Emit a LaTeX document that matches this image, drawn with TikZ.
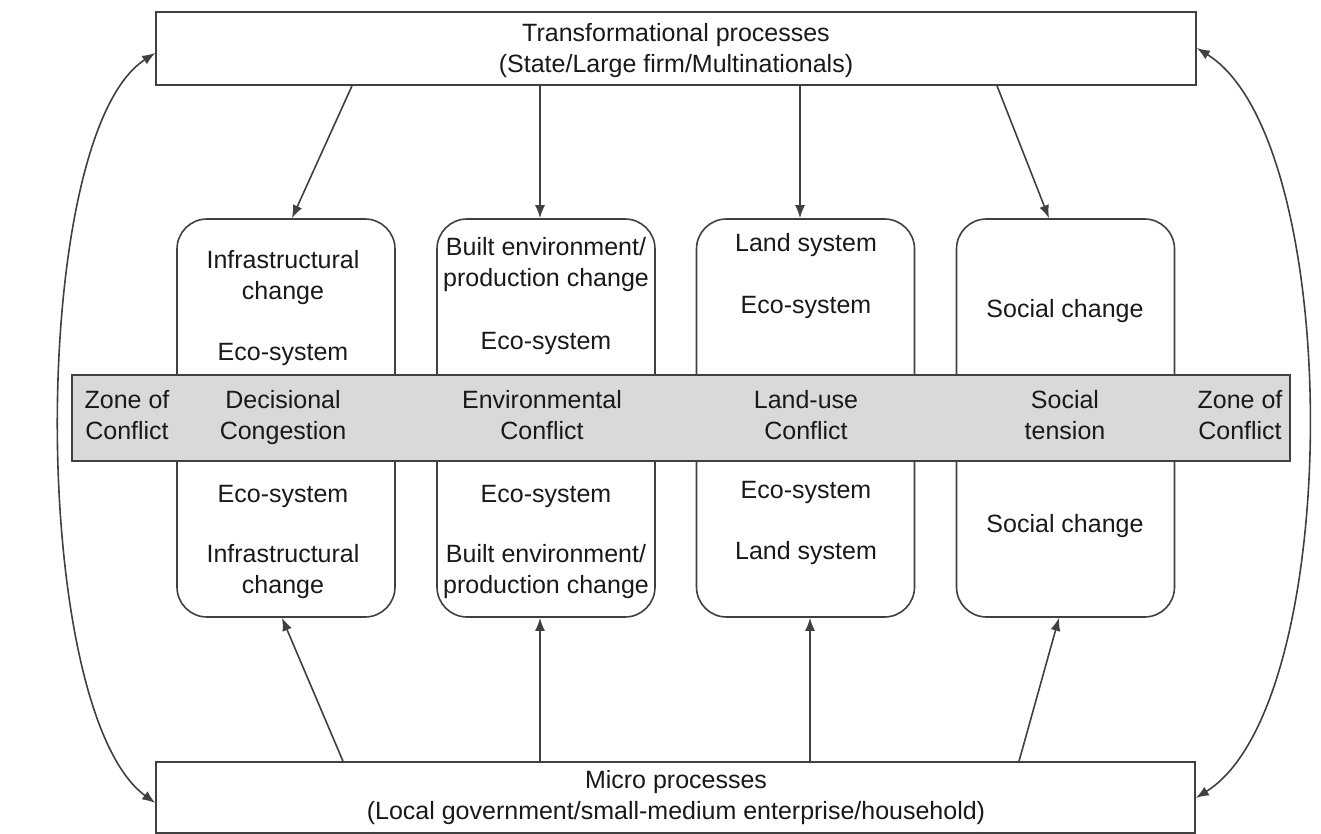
\documentclass[tikz,border=0pt]{standalone}
\usepackage{fontspec}
\setmainfont{Liberation Sans}
\usetikzlibrary{arrows.meta}
\begin{document}
\begin{tikzpicture}[x=1pt,y=-1pt,
  ink/.style={draw=black!75,line width=1.6pt},
  procbox/.style={ink,fill=white,rectangle,inner sep=0pt},
  changebox/.style={ink,rectangle,rounded corners=30pt,minimum width=218pt,minimum height=398pt,inner sep=0pt},
  label/.style={font=\fontsize{25}{31}\selectfont,align=center,text=black!90,inner sep=0pt},
  arr/.style={ink,-{Latex[length=13pt,width=10pt]}},
  dblarr/.style={ink,{Latex[length=13pt,width=10pt]}-{Latex[length=13pt,width=10pt]}}]
\useasboundingbox (0,0) rectangle (1321,834);

% process boxes
\node[procbox,minimum width=1040pt,minimum height=73pt] (tp) at (676,48.5) {};
\node[procbox,minimum width=1039pt,minimum height=71pt] (mp) at (675.5,797.5) {};
\node[label] (tpt) at (676,51) {Transformational processes\\(State/Large firm/Multinationals)};
\node[label] (mpt) at (676,798) {Micro processes\\(Local government/small-medium enterprise/household)};

% change boxes
\node[changebox] (b1) at (286,418) {};
\node[changebox] (b2) at (546,418) {};
\node[changebox] (b3) at (805.5,418) {};
\node[changebox] (b4) at (1065.5,418) {};

% conflict band across the boxes
\node[draw=black!75,line width=1.6pt,fill=black!15,rectangle,minimum width=1218pt,minimum height=86pt,inner sep=0pt] (band) at (681,418) {};

% texts inside the change boxes
\node[label] (t1a) at (283,278) {Infrastructural\\change};
\node[label] (t1b) at (283,354) {Eco-system};
\node[label] (t1c) at (283,496) {Eco-system};
\node[label] (t1d) at (283,572) {Infrastructural\\change};

\node[label] (t2a) at (546,265) {Built environment/\\production change};
\node[label] (t2b) at (546,343) {Eco-system};
\node[label] (t2c) at (546,496) {Eco-system};
\node[label] (t2d) at (546,572) {Built environment/\\production change};

\node[label] (t3a) at (806,245) {Land system};
\node[label] (t3b) at (806,307) {Eco-system};
\node[label] (t3c) at (806,492) {Eco-system};
\node[label] (t3d) at (806,553) {Land system};

\node[label] (t4a) at (1065,311) {Social change};
\node[label] (t4b) at (1065,526) {Social change};

% texts in the band
\node[label] (z1) at (127,415) {Zone of\\Conflict};
\node[label] (c1) at (283,418) {Decisional\\Congestion};
\node[label] (c2) at (542,415) {Environmental\\Conflict};
\node[label] (c3) at (806,415) {Land-use\\Conflict};
\node[label] (c4) at (1065,415) {Social\\tension};
\node[label] (z2) at (1240,415) {Zone of\\Conflict};

% top-down influences
\draw[arr] (tp.south -| 352,0) -- (b1.north -| 292,0);
\draw[arr] (tp.south -| 540,0) -- (b2.north -| 540,0);
\draw[arr] (tp.south -| 800,0) -- (b3.north -| 800,0);
\draw[arr] (tp.south -| 997,0) -- (b4.north -| 1049,0);

% bottom-up influences
\draw[arr] (mp.north -| 343,0) -- (b1.south -| 282,0);
\draw[arr] (mp.north -| 540,0) -- (b2.south -| 540,0);
\draw[arr] (mp.north -| 810,0) -- (b3.south -| 810,0);
\draw[arr] (mp.north -| 1019,0) -- (b4.south -| 1059,0);

% feedback between the two levels
\coordinate (tl) at (tp.west |- 0,53);
\coordinate (bl) at (mp.west |- 0,803);
\coordinate (tr) at (tp.east |- 0,48);
\coordinate (br) at (mp.east |- 0,798);
\draw[dblarr] (bl) .. controls (28,710) and (28,135) .. (tl);
\draw[dblarr] (tr) .. controls (1345,140) and (1345,705) .. (br);
\end{tikzpicture}
\end{document}
